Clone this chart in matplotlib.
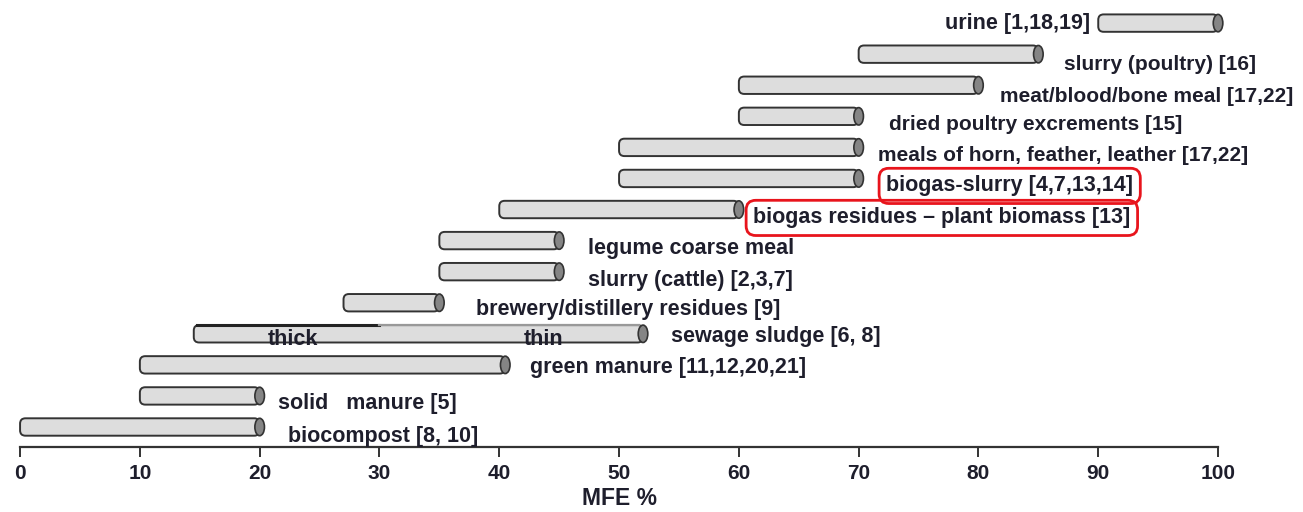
# MFE ranges of organic fertilisers, drawn as floating "cylinder" bars

import matplotlib.pyplot as plt
from matplotlib.patches import FancyBboxPatch, Ellipse

# === data ==================================================
labels = ["urine [1,18,19]", "slurry (poultry) [16]", "meat/blood/bone meal [17,22]",
          "dried poultry excrements [15]", "meals of horn, feather, leather [17,22]",
          "biogas-slurry [4,7,13,14]", "biogas residues \u2013 plant biomass [13]",
          "legume coarse meal", "slurry (cattle) [2,3,7]", "brewery/distillery residues [9]",
          "sewage sludge [6, 8]", "green manure [11,12,20,21]", "solid   manure [5]",
          "biocompost [8, 10]"]
mfe_low = [90, 70, 60, 60, 50, 50, 40, 35, 35, 27, 14.5, 10, 10, 0]
mfe_high = [100, 85, 80, 70, 70, 70, 60, 45, 45, 35, 52, 40.5, 20, 20]

# sewage sludge split: thick part up to 30 %, thin part beyond
sludge_split = 30
sludge_parts = ["thick", "thin"]

highlighted = ["biogas-slurry [4,7,13,14]", "biogas residues \u2013 plant biomass [13]"]
narrow_labels = ["slurry (poultry) [16]", "meat/blood/bone meal [17,22]",
                 "dried poultry excrements [15]", "meals of horn, feather, leather [17,22]"]
xticks = [0, 10, 20, 30, 40, 50, 60, 70, 80, 90, 100]

# === layout of the labels (x in MFE %, y shift in rows) ====
label_x = [89.3, 87.1, 81.8, 72.5, 71.6, 72.3, 61.2, 47.4, 47.4, 38.1, 54.3, 42.6, 21.5, 22.4]
label_dy = [0, 0.33, 0.36, 0.26, 0.25, 0.24, 0.27, 0.25, 0.3, 0.22, 0.1, 0.08, 0.24, 0.3]
part_x = [22.8, 43.7]

text_col = "#1e1e2c"
edge_col = "#333333"
font = ["Liberation Sans", "DejaVu Sans"]

fig = plt.figure(figsize=(13.03, 5.12), dpi=100)
ax = fig.add_axes([0.0154, 0.127, 0.9194, 0.863])

bar_h = 0.56
cap_w = 0.8
aspect = (1 / 31.08) / (1 / 11.98)  # y-units per pixel / x-units per pixel

for i, (lab, lo, hi) in enumerate(zip(labels, mfe_low, mfe_high)):
    body = FancyBboxPatch((lo, i - bar_h / 2), hi - lo, bar_h,
                          boxstyle="round,pad=0,rounding_size=0.45", mutation_aspect=aspect,
                          facecolor="#dddddd", edgecolor=edge_col, linewidth=1.4, zorder=2,
                          clip_on=False)
    ax.add_patch(body)
    cap = Ellipse((hi, i), cap_w, bar_h, facecolor="#858585", edgecolor=edge_col,
                  linewidth=1.2, zorder=3, clip_on=False)
    ax.add_patch(cap)

    ha = "right" if i == 0 else "left"
    fs = 15 if lab in narrow_labels else 15.5
    bbox = None
    if lab in highlighted:
        bbox = dict(boxstyle="round,pad=0.33,rounding_size=0.45", facecolor="none",
                    edgecolor="#e8141c", linewidth=2)
    ax.text(label_x[i], i + label_dy[i], lab, ha=ha, va="center", fontsize=fs,
            fontweight="bold", family=font, color=text_col, bbox=bbox, zorder=5)

# thick / thin parts of the sewage sludge bar
i_sl = labels.index("sewage sludge [6, 8]")
ax.plot([mfe_low[i_sl] + 0.3, sludge_split], [i_sl - bar_h / 2] * 2, color="#222222", lw=2.2, zorder=4)
ax.plot([sludge_split, mfe_high[i_sl] - 0.3], [i_sl - bar_h / 2] * 2, color="#999999", lw=1.6, zorder=4)
for px, part in zip(part_x, sludge_parts):
    ax.text(px, i_sl + 0.17, part, ha="center", va="center", fontsize=15.5, fontweight="bold",
            family=font, color=text_col, zorder=5)

ax.set_xlim(0, 100)
ax.set_ylim(len(labels) - 1 + 0.643, -0.579)
ax.set_xticks(xticks)
ax.set_xticklabels([str(t) for t in xticks], fontsize=15, fontweight="bold", family=font, color=text_col)
ax.set_yticks([])
for s in ["left", "right", "top"]:
    ax.spines[s].set_visible(False)
ax.spines["bottom"].set_color(edge_col)
ax.spines["bottom"].set_linewidth(1.6)
ax.tick_params(axis="x", length=7, width=1.4, color=edge_col, pad=5)
ax.set_xlabel("MFE %", fontsize=16.5, fontweight="bold", family=font, color=text_col, labelpad=3)
ax.patch.set_alpha(0)

fig.savefig("out.png", dpi=100)
